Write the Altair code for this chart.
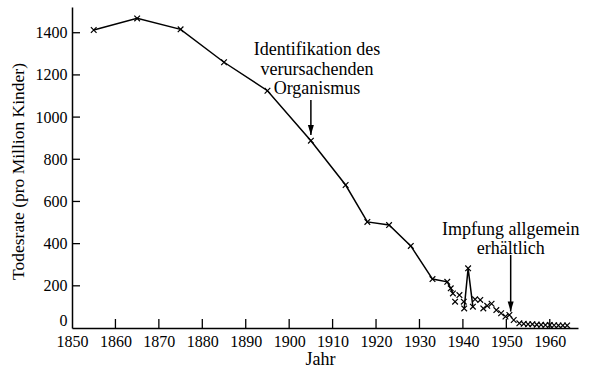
import altair as alt
import pandas as pd

# ---- data ----
years = [1855, 1865, 1875, 1885, 1895, 1905, 1913, 1918, 1923, 1928, 1933,
         1936.4, 1937.2, 1937.7, 1938.2, 1939.2, 1940.2, 1940.3, 1941.2, 1942.3,
         1942.8, 1944.0, 1944.7, 1945.6, 1946.6, 1947.7, 1948.8, 1949.8, 1950.7,
         1951.7, 1953, 1954, 1955, 1956, 1957, 1958, 1959, 1960, 1961, 1962,
         1963, 1964]
rates = [1413, 1468, 1416, 1260, 1125, 888, 678, 503, 488, 389, 232,
         219, 188, 164, 125, 156, 125, 93, 283, 101,
         136, 133, 93, 105, 115, 85, 70, 54, 62,
         38, 22, 20, 18, 18, 16, 15, 14, 14, 13, 12,
         12, 12]
segments = ["a"] * 14 + [""] * 3 + ["b"] * 3 + [""] * 22

x_tick_values = [1850, 1860, 1870, 1880, 1890, 1900, 1910, 1920, 1930, 1940, 1950, 1960]
y_tick_values = [0, 200, 400, 600, 800, 1000, 1200, 1400]

note_years = [1906.4, 1906.4, 1906.4, 1951.0, 1951.0]
note_vals = [1294, 1200, 1110, 441, 351]
note_texts = ["Identifikation des", "verursachenden", "Organismus",
              "Impfung allgemein", "erhältlich"]

arrow_years = [1905, 1951]
arrow_from = [1081, 346]
arrow_to = [915, 78]

# ---- tables ----
pts = pd.DataFrame({"year": years, "val": rates, "seg": segments})
notes = pd.DataFrame({"year": note_years, "val": note_vals, "txt": note_texts})
arrows = pd.DataFrame({"year": arrow_years, "val": arrow_from, "val2": arrow_to})
xt = pd.DataFrame({"year": x_tick_values[1:]})
yt = pd.DataFrame({"val": y_tick_values[1:]})

W, H = 506, 321
FONT = "Liberation Serif"

xscale = alt.Scale(domain=[1850, 1966.5], nice=False, zero=False)
yscale = alt.Scale(domain=[0, 1522], nice=False)

xaxis = alt.Axis(values=x_tick_values, format="d", ticks=False, grid=False,
                 domainColor="black", domainWidth=1.5, labelFlush=False,
                 labelFont=FONT, labelFontSize=16, labelColor="black", labelPadding=5,
                 title="Jahr", titleFont=FONT, titleFontSize=18, titleFontWeight="normal",
                 titleColor="black", titleX=248, titleY=36, titleBaseline="alphabetic",
                 titleAnchor="middle", titleAlign="center")
yaxis = alt.Axis(values=y_tick_values, format="d", ticks=False, grid=False,
                 domainColor="black", domainWidth=1.5, labelFlush=True,
                 labelFont=FONT, labelFontSize=16, labelColor="black", labelPadding=5,
                 title="Todesrate (pro Million Kinder)", titleFont=FONT, titleFontSize=17.5,
                 titleFontWeight="normal", titleColor="black", titleX=-54, titleY=164,
                 titleAngle=-90, titleBaseline="middle", titleAlign="center")

X = alt.X("year:Q", scale=xscale, axis=xaxis)
Y = alt.Y("val:Q", scale=yscale, axis=yaxis)

line = alt.Chart(pts).transform_filter("datum.seg != ''").mark_line(
    color="black", strokeWidth=1.5).encode(x=X, y=Y, detail="seg:N", order="year:Q")

cross = alt.Chart(pts).mark_point(
    shape="M-1,-1L1,1M-1,1L1,-1", size=32, filled=False, color="black",
    strokeWidth=1.2, opacity=1).encode(x=X, y=Y)

xticks = alt.Chart(xt).mark_rule(color="black", strokeWidth=1.3).encode(
    x=X, y=alt.value(H), y2=alt.value(H - 9))
yticks = alt.Chart(yt).mark_rule(color="black", strokeWidth=1.3).encode(
    y=Y, x=alt.value(0), x2=alt.value(8))

text = alt.Chart(notes).mark_text(font=FONT, fontSize=18, color="black",
                                  align="center", baseline="alphabetic").encode(
    x=X, y=Y, text="txt:N")

arrow_shaft = alt.Chart(arrows).mark_rule(color="black", strokeWidth=1.5).encode(
    x=X, y=Y, y2="val2:Q")
arrow_head = alt.Chart(arrows).mark_point(
    shape="M-0.6,-2L0.6,-2L0,0Z", size=100, filled=True, color="black",
    opacity=1).encode(x=X, y=alt.Y("val2:Q", scale=yscale, axis=yaxis))

chart = alt.layer(line, cross, xticks, yticks, arrow_shaft, arrow_head, text).properties(
    width=W, height=H,
    autosize=alt.AutoSizeParams(type="none"),
    padding={"left": 72, "top": 7, "right": 20, "bottom": 48},
    background="white",
).configure_view(stroke=None)

chart.save("out.html", embed_options={"renderer": "svg", "actions": False})
